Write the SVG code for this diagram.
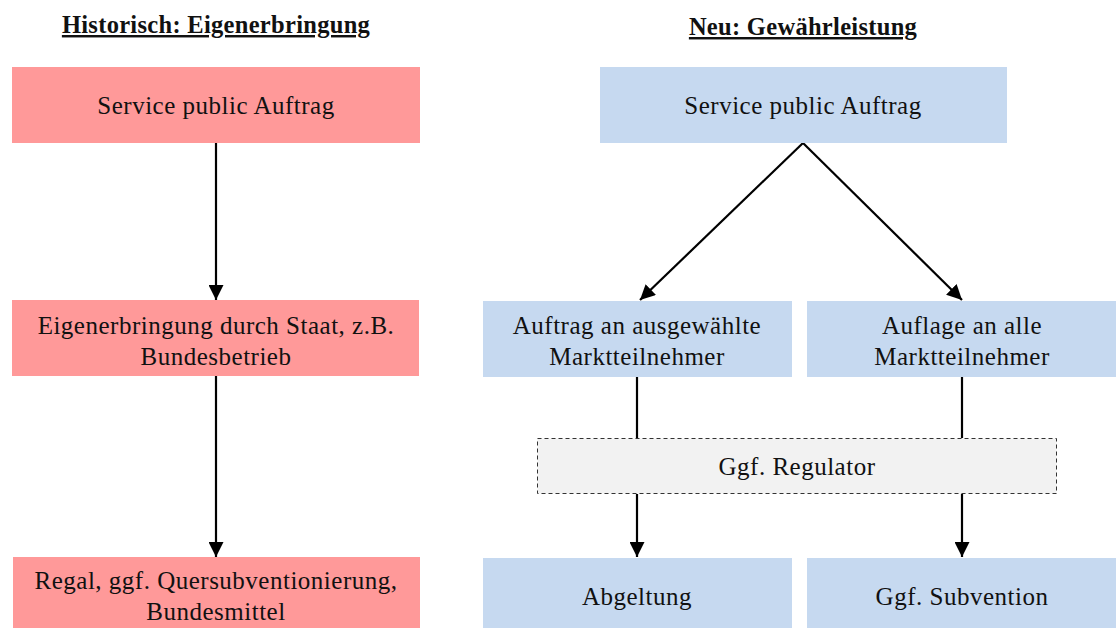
<svg xmlns="http://www.w3.org/2000/svg" width="1116" height="628" viewBox="0 0 1116 628">
<style>
text{font-family:"Liberation Serif","DejaVu Serif",serif;font-size:25px;letter-spacing:0.5px;fill:#111;text-anchor:middle}
.title{font-weight:bold;text-decoration:underline;font-size:24.5px;letter-spacing:0.3px}
.red{fill:#FF9999}
.blue{fill:#C6D9F0}
.reg{fill:#F2F2F2;stroke:#333;stroke-width:1;stroke-dasharray:4,3}
.c{stroke:#000;stroke-width:2.2;fill:none}
</style>
<defs>
<marker id="a" viewBox="0 0 15 15" refX="15" refY="7.5" markerWidth="15" markerHeight="15" markerUnits="userSpaceOnUse" orient="auto">
<path d="M0,0 L15,7.5 L0,15 z" fill="#000"/>
</marker>
</defs>
<rect width="1116" height="628" fill="#fff"/>
<text class="title" x="216" y="33">Historisch: Eigenerbringung</text>
<text class="title" x="803" y="35">Neu: Gewährleistung</text>
<g id="connectors">
<line class="c" x1="216" y1="143" x2="216" y2="300" marker-end="url(#a)"/>
<line class="c" x1="216" y1="376" x2="216" y2="557" marker-end="url(#a)"/>
<line class="c" x1="803" y1="143" x2="640" y2="300" marker-end="url(#a)"/>
<line class="c" x1="803" y1="143" x2="962" y2="300" marker-end="url(#a)"/>
<line class="c" x1="637" y1="377" x2="637" y2="438"/>
<line class="c" x1="962" y1="377" x2="962" y2="438"/>
<line class="c" x1="637" y1="494" x2="637" y2="557" marker-end="url(#a)"/>
<line class="c" x1="962" y1="494" x2="962" y2="557" marker-end="url(#a)"/>
</g>
<g id="h1"><rect class="red" x="12" y="67" width="408" height="76"/><text x="216" y="114">Service public Auftrag</text></g>
<g id="h2"><rect class="red" x="12" y="300" width="407" height="76"/><text x="216" y="334">Eigenerbringung durch Staat, z.B.</text><text x="216" y="365">Bundesbetrieb</text></g>
<g id="h3"><rect class="red" x="13" y="557" width="407" height="71"/><text x="216" y="589">Regal, ggf. Quersubventionierung,</text><text x="216" y="620">Bundesmittel</text></g>
<g id="n1"><rect class="blue" x="600" y="67" width="407" height="76"/><text x="803" y="114">Service public Auftrag</text></g>
<g id="n2"><rect class="blue" x="483" y="301" width="309" height="76"/><text x="637" y="334">Auftrag an ausgewählte</text><text x="637" y="365">Marktteilnehmer</text></g>
<g id="n3"><rect class="blue" x="807" y="301" width="309" height="76"/><text x="962" y="334">Auflage an alle</text><text x="962" y="365">Marktteilnehmer</text></g>
<g id="reg"><rect class="reg" x="537.5" y="438.5" width="519" height="55"/><text x="797" y="475">Ggf. Regulator</text></g>
<g id="n4"><rect class="blue" x="483" y="558" width="309" height="70"/><text x="637" y="605">Abgeltung</text></g>
<g id="n5"><rect class="blue" x="807" y="558" width="309" height="70"/><text x="962" y="605">Ggf. Subvention</text></g>
</svg>
